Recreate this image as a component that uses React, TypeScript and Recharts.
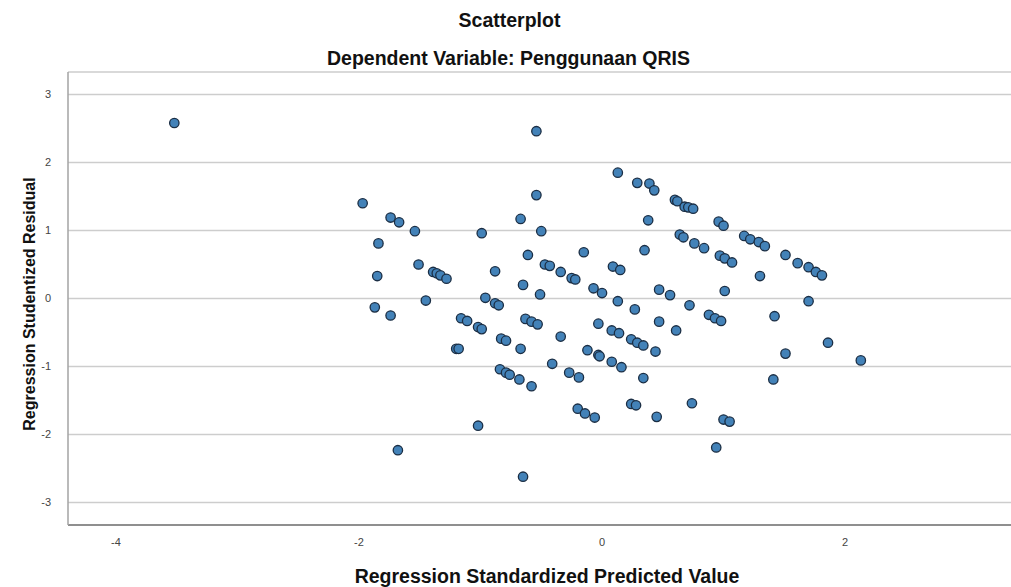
import { ScatterChart, Scatter, XAxis, YAxis, CartesianGrid } from 'recharts';

// Regression Standardized Predicted Value
const predicted = [
  -3.52, -1.97, -1.74, -1.67, -1.54, -1.84, -1.85, -1.87, -1.74, -1.51,
  -1.39, -1.36, -1.33, -1.28, -1.45, -0.99, -0.88, -0.96, -0.88, -0.85,
  -0.54, -0.54, -0.67, -0.5, -0.61, -0.47, -0.43, -0.34, -0.25, -0.22,
  -0.15, -0.65, -0.51, 0.13, 0.29, 0.39, 0.43, 0.38, 0.35, 0.09,
  0.15, -0.07, 0.0, 0.13, 0.27, 0.47, 0.56, -1.16, -1.11, -1.02,
  -0.99, -0.63, -0.58, -0.53, -0.83, -0.79, -1.2, -1.18, -0.67, -0.34,
  -0.03, 0.08, 0.14, 0.24, 0.29, 0.34, 0.44, 0.47, -0.12, -0.03,
  -0.02, 0.08, 0.16, -0.41, -0.27, -0.19, -0.84, -0.79, -0.76, -0.68,
  -0.58, 0.34, -0.2, -0.14, -0.06, 0.24, 0.28, 0.45, -1.02, -1.68,
  -0.65, 0.6, 0.62, 0.68, 0.71, 0.75, 0.96, 1.0, 1.17, 1.22,
  1.29, 1.34, 1.51, 1.61, 1.7, 1.76, 1.81, 1.3, 1.7, 0.64,
  0.67, 0.76, 0.84, 0.97, 1.01, 1.07, 1.01, 1.42, 0.72, 0.61,
  0.88, 0.93, 0.98, 1.86, 2.13, 1.51, 1.41, 0.74, 1.0, 1.05,
  0.94,
];

// Regression Studentized Residual
const residual = [
  2.58, 1.4, 1.19, 1.12, 0.99, 0.81, 0.33, -0.13, -0.25, 0.5,
  0.39, 0.37, 0.34, 0.29, -0.03, 0.96, 0.4, 0.01, -0.07, -0.1,
  2.46, 1.52, 1.17, 0.99, 0.64, 0.5, 0.48, 0.39, 0.3, 0.28,
  0.68, 0.2, 0.06, 1.85, 1.7, 1.69, 1.59, 1.15, 0.71, 0.47,
  0.42, 0.15, 0.08, -0.04, -0.16, 0.13, 0.05, -0.29, -0.33, -0.42,
  -0.45, -0.3, -0.34, -0.38, -0.59, -0.62, -0.74, -0.74, -0.74, -0.56,
  -0.37, -0.47, -0.51, -0.6, -0.65, -0.69, -0.78, -0.34, -0.76, -0.83,
  -0.85, -0.93, -1.01, -0.96, -1.09, -1.16, -1.04, -1.09, -1.12, -1.19,
  -1.29, -1.17, -1.62, -1.69, -1.75, -1.55, -1.57, -1.74, -1.87, -2.23,
  -2.62, 1.45, 1.43, 1.35, 1.34, 1.32, 1.13, 1.07, 0.92, 0.87,
  0.83, 0.77, 0.64, 0.52, 0.46, 0.39, 0.34, 0.33, -0.04, 0.94,
  0.9, 0.81, 0.74, 0.63, 0.59, 0.53, 0.11, -0.26, -0.1, -0.47,
  -0.24, -0.29, -0.33, -0.65, -0.91, -0.81, -1.19, -1.54, -1.78, -1.81,
  -2.19,
];

const xTicks = [-4, -2, 0, 2];
const yTicks = [-3, -2, -1, 0, 1, 2, 3];

const points = predicted.map((x, i) => ({ x, y: residual[i] }));

const font = '"Liberation Sans", Arial, sans-serif';

const Dot = (props: any) => (
  <circle cx={props.cx} cy={props.cy} r={4.7} fill="#4382b8" stroke="#1b2e44" strokeWidth={1.3} />
);

const App = () => {
  return (
    <div style={{ position: 'absolute', left: 0, top: 0, width: 1011, height: 587, background: '#fff', fontFamily: font }}>
      <ScatterChart width={1011} height={587} margin={{ top: 72, right: 0, bottom: 0, left: 0 }}>
        <CartesianGrid vertical={false} stroke="#cdcdcd" strokeWidth={1.5} />
        <XAxis
          type="number"
          dataKey="x"
          domain={[-4.395, 3.366]}
          ticks={xTicks}
          allowDataOverflow
          height={62}
          tickLine={false}
          axisLine={{ stroke: '#8f8f8f', strokeWidth: 2 }}
          tick={{ fontSize: 11, fill: '#444', fontFamily: font }}
          tickMargin={7}
        />
        <YAxis
          type="number"
          dataKey="y"
          domain={[-3.33, 3.33]}
          ticks={yTicks}
          allowDataOverflow
          width={68}
          tickLine={false}
          axisLine={{ stroke: '#a3a3a3', strokeWidth: 1.5 }}
          tick={{ fontSize: 11, fill: '#444', fontFamily: font }}
          tickMargin={11}
        />
        <Scatter data={points} shape={Dot} isAnimationActive={false} />
      </ScatterChart>
      <svg width={1011} height={587} style={{ position: 'absolute', left: 0, top: 0, pointerEvents: 'none' }}>
        <text x={509.5} y={26.5} textAnchor="middle" fontSize={19.5} fontWeight="bold" fill="#111" fontFamily={font}>
          Scatterplot
        </text>
        <text x={508.5} y={64.5} textAnchor="middle" fontSize={19.5} fontWeight="bold" fill="#111" fontFamily={font}>
          Dependent Variable: Penggunaan QRIS
        </text>
        <text x={547} y={583} textAnchor="middle" fontSize={19.5} fontWeight="bold" fill="#111" fontFamily={font}>
          Regression Standardized Predicted Value
        </text>
        <text
          x={35}
          y={304}
          transform="rotate(-90 35 304)"
          textAnchor="middle"
          fontSize={16}
          fontWeight="bold"
          fill="#111"
          fontFamily={font}
        >
          Regression Studentized Residual
        </text>
      </svg>
    </div>
  );
};

export default App;
